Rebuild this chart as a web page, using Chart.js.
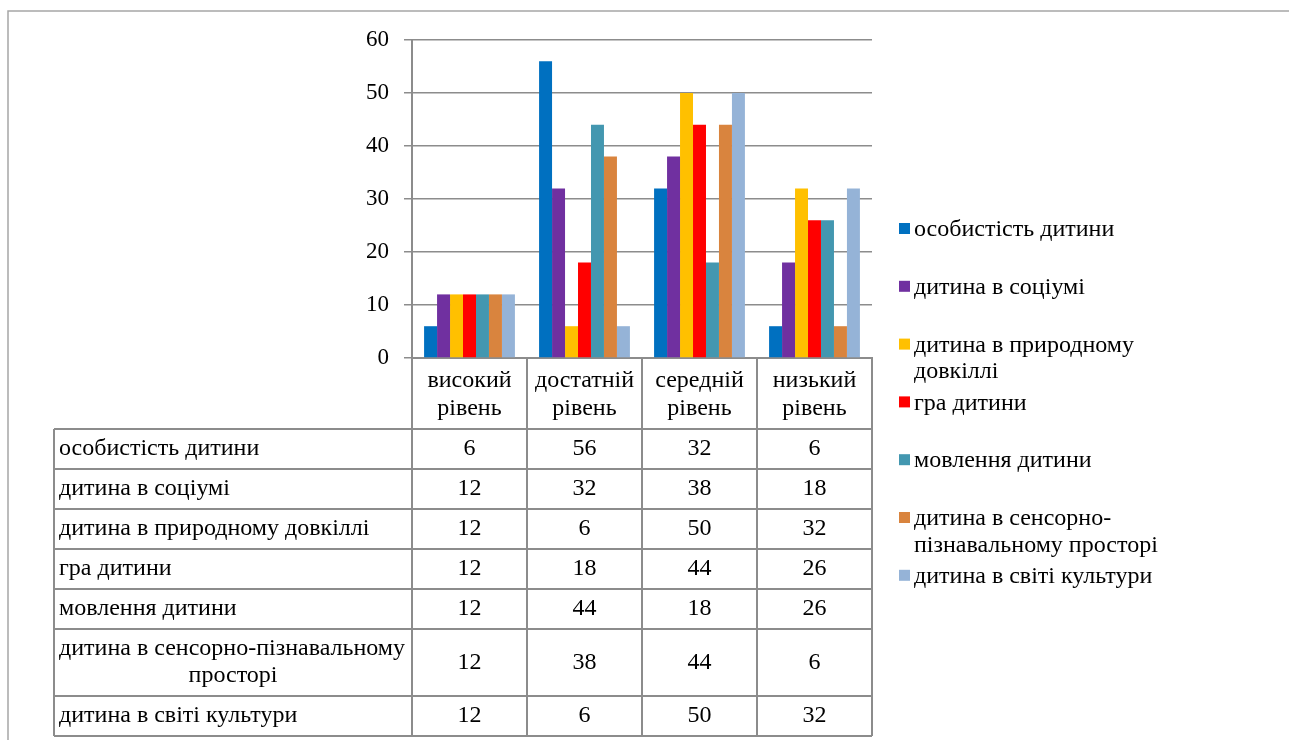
<!DOCTYPE html>
<html>
<head>
<meta charset="utf-8">
<script src="https://cdn.jsdelivr.net/npm/chart.js@4.4.1/dist/chart.umd.min.js"></script>
<style>
html,body{margin:0;padding:0;background:#fff;}
#wrap{position:relative;width:1289px;height:740px;overflow:hidden;}
canvas{position:absolute;left:0;top:0;}
</style>
</head>
<body>
<div id="wrap"><canvas id="c" width="1289" height="740"></canvas></div>
<script>
// ---- data ----
const categories = [['високий','рівень'],['достатній','рівень'],['середній','рівень'],['низький','рівень']];
const seriesNames = ['особистість дитини','дитина в соціумі','дитина в природному довкіллі','гра дитини','мовлення дитини','дитина в сенсорно-пізнавальному просторі','дитина в світі культури'];
const legendLines = [['особистість дитини'],['дитина в соціумі'],['дитина в природному','довкіллі'],['гра дитини'],['мовлення дитини'],['дитина в сенсорно-','пізнавальному просторі'],['дитина в світі культури']];
const tableLines = [['особистість дитини'],['дитина в соціумі'],['дитина в природному довкіллі'],['гра дитини'],['мовлення дитини'],['дитина в сенсорно-пізнавальному','просторі'],['дитина в світі культури']];
const osobystist = [6,56,32,6];
const sotsium = [12,32,38,18];
const pryroda = [12,6,50,32];
const hra = [12,18,44,26];
const movlennia = [12,44,18,26];
const sensor = [12,38,44,6];
const kultura = [12,6,50,32];
const yTicks = [0,10,20,30,40,50,60];
const colors = ['#0070C0','#7030A0','#FFC000','#FF0000','#4397B0','#D9843E','#95B3D7'];

const seriesValues = [osobystist,sotsium,pryroda,hra,movlennia,sensor,kultura];
const FONT = '24px "Liberation Serif", "Times New Roman", serif';
const GRAY = '#8c8c8c';

const tablePlugin = {
  id:'tablePlugin',
  afterDraw(chart){
    const ctx = chart.ctx;
    const xs = chart.scales.x;
    const area = chart.chartArea;
    const n = categories.length;
    const w = (area.right-area.left)/n;
    const edges = [];
    for(let i=0;i<=n;i++) edges.push(area.left + i*w);
    const labelLeft = 54;
    const headerTop = area.bottom, headerBottom = 429;
    const rowH = tableLines.map(l => l.length>1 ? 67 : 40);
    const rowTops = [headerBottom];
    rowH.forEach(h => rowTops.push(rowTops[rowTops.length-1]+h));
    const tableBottom = rowTops[rowTops.length-1];
    ctx.save();
    // frame border of page
    ctx.strokeStyle = '#a6a6a6'; ctx.lineWidth = 1.5;
    ctx.beginPath(); ctx.moveTo(8,740); ctx.lineTo(8,11); ctx.lineTo(1289,11); ctx.stroke();
    // table lines
    ctx.strokeStyle = GRAY; ctx.lineWidth = 2;
    ctx.beginPath();
    edges.forEach(x => { ctx.moveTo(x, headerTop); ctx.lineTo(x, tableBottom); });
    ctx.moveTo(labelLeft, headerBottom); ctx.lineTo(labelLeft, tableBottom);
    rowTops.forEach(y => { ctx.moveTo(labelLeft, y); ctx.lineTo(edges[n], y); });
    ctx.stroke();
    // header labels
    ctx.fillStyle = '#000'; ctx.font = FONT; ctx.textBaseline = 'middle'; ctx.textAlign = 'center';
    categories.forEach((lab,i) => {
      const cx = xs.getPixelForValue(i);
      lab.forEach((t,k) => ctx.fillText(t, cx, 381 + k*28));
    });
    // rows
    tableLines.forEach((lines,r) => {
      const top = rowTops[r], h = rowH[r];
      const cy = top + h/2;
      if(lines.length === 1){
        ctx.textAlign = 'left';
        ctx.fillText(lines[0], labelLeft+5, cy);
      } else {
        ctx.textAlign = 'left';
        ctx.fillText(lines[0], labelLeft+5, cy-13.5);
        ctx.textAlign = 'center';
        ctx.fillText(lines[1], (labelLeft+edges[0])/2, cy+13.5);
      }
      ctx.textAlign = 'center';
      seriesValues[r].forEach((v,i) => ctx.fillText(String(v), xs.getPixelForValue(i), cy));
    });
    // legend
    legendLines.forEach((lines,k) => {
      const cy = 230 + k*57.8;
      ctx.fillStyle = colors[k];
      ctx.fillRect(899, cy-7, 11, 11);
      ctx.fillStyle = '#000'; ctx.textAlign = 'left';
      lines.forEach((t,j) => ctx.fillText(t, 914, cy + j*26.5));
    });
    ctx.restore();
  }
};

new Chart(document.getElementById('c'), {
  type:'bar',
  data:{
    labels: categories.map(c => c.join(' ')),
    datasets: seriesNames.map((name,k) => ({
      label:name, data:seriesValues[k], backgroundColor:colors[k],
      borderWidth:0, barPercentage:1, categoryPercentage:0.79
    }))
  },
  options:{
    responsive:false, animation:false, devicePixelRatio:1,
    layout:{padding:{left:352, right:417, top:40, bottom:0}},
    plugins:{legend:{display:false}, tooltip:{enabled:false}},
    scales:{
      x:{
        ticks:{display:false},
        grid:{display:false},
        border:{display:true, color:GRAY, width:2},
        afterFit(s){ s.height = 382; }
      },
      y:{
        min:0, max:60,
        afterBuildTicks(s){ s.ticks = yTicks.map(v => ({value:v})); },
        ticks:{font:{family:'"Liberation Serif", serif', size:23}, color:'#000', padding:15},
        grid:{color:GRAY, lineWidth:1.5, tickLength:8},
        border:{display:true, color:GRAY, width:2},
        afterFit(s){ s.width = 60; }
      }
    }
  },
  plugins:[tablePlugin]
});
</script>
</body>
</html>
